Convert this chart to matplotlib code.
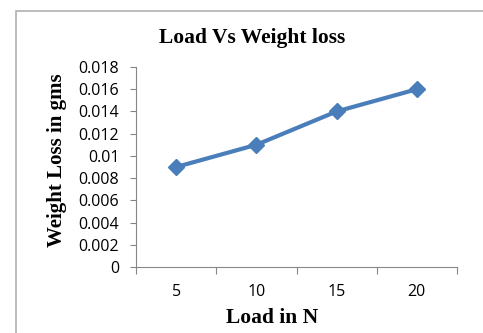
import numpy as np
import matplotlib
matplotlib.use("Agg")
import matplotlib.pyplot as plt
from matplotlib.patches import Rectangle

# data
loads = ["5", "10", "15", "20"]
weight_loss = [0.009, 0.011, 0.014, 0.016]
y_ticks = [0, 0.002, 0.004, 0.006, 0.008, 0.01, 0.012, 0.014, 0.016, 0.018]
y_tick_labels = ["0", "0.002", "0.004", "0.006", "0.008", "0.01", "0.012", "0.014", "0.016", "0.018"]

W, H = 483, 333
fig = plt.figure(figsize=(W / 100, H / 100), dpi=100)

# chart border (runs off the right/bottom edge like the original crop)
fig.patches.append(Rectangle((15.5 / W, -0.1), 1.2, 1 - 10.5 / H + 0.1,
                             transform=fig.transFigure, fill=False,
                             edgecolor="#b0b0b0", linewidth=1.2))

ax = fig.add_axes([136 / W, 1 - 267 / H, (457 - 136) / W, 200 / H])
x = np.arange(len(loads))
ax.plot(x, weight_loss, color="#4a7ebb", linewidth=3, marker="D",
        markersize=8, markeredgecolor="#4a7ebb")

ax.set_xlim(-0.5, len(loads) - 0.5)
ax.set_ylim(0, 0.018)
ax.set_yticks(y_ticks)
ax.set_yticklabels(y_tick_labels)

ax.set_xticks(np.arange(len(loads) + 1) - 0.5)
ax.set_xticklabels([])
ax.set_xticks(x, minor=True)
ax.set_xticklabels(loads, minor=True)
ax.tick_params(axis="x", which="major", length=5, color="#868686")
ax.tick_params(axis="x", which="minor", length=0, pad=12)
ax.tick_params(axis="y", length=4, color="#868686", pad=8)
for lab in ax.get_xticklabels(minor=True) + ax.get_yticklabels():
    lab.set_family("Open Sans")
    lab.set_fontsize(11.5)

for s in ["top", "right"]:
    ax.spines[s].set_visible(False)
for s in ["left", "bottom"]:
    ax.spines[s].set_color("#868686")

serif = {"family": "Liberation Serif", "weight": "bold"}
fig.text(252 / W, 1 - 38 / H, "Load Vs Weight loss", ha="center", va="center",
         fontsize=15.5, **serif)
fig.text(272 / W, 1 - 318 / H, "Load in N", ha="center", va="center",
         fontsize=15.5, **serif)
fig.text(57 / W, 1 - 160 / H, "Weight Loss in gms", ha="center", va="center",
         rotation=90, fontsize=15, **serif)

fig.savefig("out.png", dpi=100)
